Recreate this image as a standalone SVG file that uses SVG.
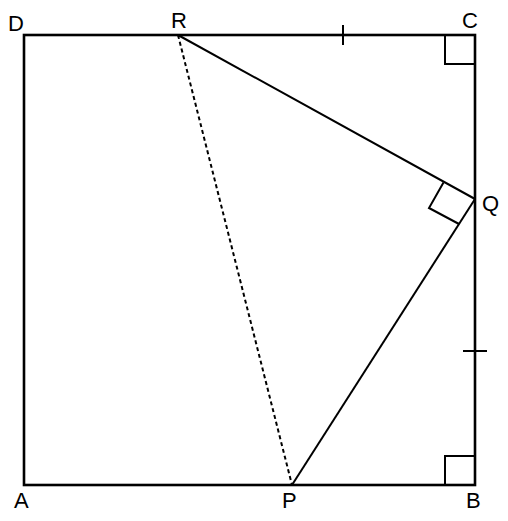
<svg xmlns="http://www.w3.org/2000/svg" width="508" height="521" viewBox="0 0 508 521">
<style>
.e{stroke:#000;stroke-width:2.6;fill:none;stroke-linecap:square}
.s{stroke:#000;stroke-width:2;fill:none}
.d{stroke:#000;stroke-width:2;fill:none;stroke-dasharray:4 3}
.m{stroke:#000;stroke-width:2;fill:none}
text{font-family:"Liberation Sans",Arial,sans-serif;font-size:22px;fill:#000}
</style>
<rect width="508" height="521" fill="#fff"/>
<g id="square">
<rect class="e" x="24" y="35" width="451" height="450"/>
</g>
<g id="connectors">
<line class="s" x1="178" y1="35" x2="475" y2="199"/>
<line class="s" x1="475" y1="199" x2="292" y2="485"/>
<line class="d" x1="178" y1="35" x2="292" y2="485"/>
</g>
<g id="marks">
<polyline class="m" points="445,35 445,64 475,64"/>
<polyline class="m" points="445,485 445,456 475,456"/>
<polyline class="m" points="443.5,182.5 429,208 459,224"/>
<line class="m" x1="343" y1="25" x2="343" y2="45"/>
<line class="m" x1="463" y1="351" x2="487" y2="351"/>
</g>
<g id="labels">
<text x="8" y="31">D</text>
<text x="171" y="28">R</text>
<text x="462" y="28">C</text>
<text x="482" y="211">Q</text>
<text x="14" y="508">A</text>
<text x="282" y="508">P</text>
<text x="466" y="508">B</text>
</g>
</svg>
